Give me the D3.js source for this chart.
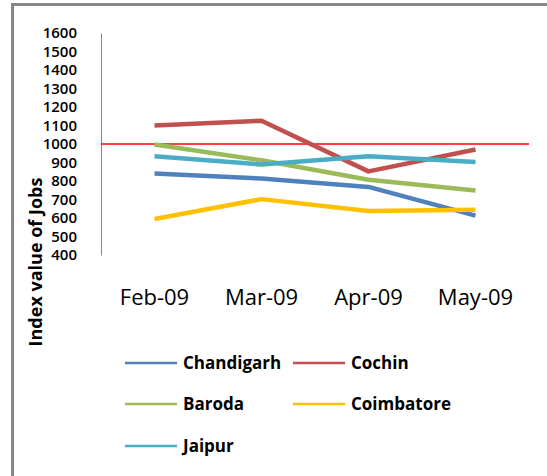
<!DOCTYPE html>
<html>
<head>
<meta charset="utf-8">
<script src="https://cdn.jsdelivr.net/npm/d3@7"></script>
<style>
  html, body { margin: 0; padding: 0; background: #fff; }
  svg { display: block; }
  text { font-family: "Open Sans", sans-serif; fill: #000; }
</style>
</head>
<body>
<svg id="chart" width="547" height="476"></svg>
<script>
const categories = ["Feb-09", "Mar-09", "Apr-09", "May-09"];
const seriesNames = ["Chandigarh", "Cochin", "Baroda", "Coimbatore", "Jaipur"];
const chandigarh = [840, 813, 768, 613];
const cochin = [1100, 1126, 852, 970];
const baroda = [997, 912, 807, 749];
const coimbatore = [595, 702, 638, 644];
const jaipur = [934, 889, 934, 903];
const seriesColors = ["#4F81BD", "#C0504D", "#9BBB59", "#FFC000", "#4BACC6"];
const yTicks = [400, 500, 600, 700, 800, 900, 1000, 1100, 1200, 1300, 1400, 1500, 1600];
const referenceValue = 1000;
const yTitle = "Index value of Jobs";

const seriesValues = [chandigarh, cochin, baroda, coimbatore, jaipur];

const svg = d3.select("#chart");

// outer frame (clipped at right/bottom like the reference)
svg.append("rect")
  .attr("x", 12.5).attr("y", 4.5)
  .attr("width", 560).attr("height", 500)
  .attr("fill", "none").attr("stroke", "#868686").attr("stroke-width", 3);

const plotLeft = 101, plotRight = 529, plotTop = 33, plotBottom = 255;

const x = d3.scaleBand().domain(categories).range([plotLeft, plotRight]).padding(0);
const y = d3.scaleLinear().domain([400, 1600]).range([plotBottom, plotTop]);

// y axis
const yAxis = d3.axisLeft(y).tickValues(yTicks).tickSize(0).tickPadding(24).tickFormat(d3.format("d"));
const yg = svg.append("g").attr("transform", `translate(${plotLeft},0)`).call(yAxis);
yg.select(".domain").attr("stroke", "#868686").attr("stroke-width", 1);
yg.selectAll("text")
  .style("font-family", "'Open Sans', sans-serif")
  .style("font-size", "15px")
  .style("font-weight", "600")
  .attr("fill", "#000");

// x axis labels (no axis line)
const xAxis = d3.axisBottom(x).tickSize(0).tickPadding(0);
const xg = svg.append("g").attr("transform", `translate(0,${plotBottom})`).call(xAxis);
xg.select(".domain").remove();
xg.selectAll("text")
  .attr("y", 50)
  .attr("dy", 0)
  .style("font-family", "'Open Sans', sans-serif")
  .style("font-size", "22px")
  .style("font-weight", "400")
  .attr("fill", "#000");

// y title
svg.append("text")
  .attr("transform", `translate(42,262) rotate(-90)`)
  .attr("text-anchor", "middle")
  .style("font-size", "18px")
  .style("font-weight", "700")
  .text(yTitle);

// reference line at 1000
svg.append("line")
  .attr("x1", plotLeft).attr("x2", plotRight)
  .attr("y1", y(referenceValue)).attr("y2", y(referenceValue))
  .attr("stroke", "#FF0000").attr("stroke-width", 1.5);

// series lines
const line = d3.line()
  .x((d, i) => x(categories[i]) + x.bandwidth() / 2)
  .y(d => y(d));

seriesValues.forEach((vals, i) => {
  svg.append("path")
    .datum(vals)
    .attr("d", line)
    .attr("fill", "none")
    .attr("stroke", seriesColors[i])
    .attr("stroke-width", 4.5)
    .attr("stroke-linejoin", "round");
});

// legend
const legendPos = [
  [125, 363], [293, 363],
  [125, 404], [293, 404],
  [125, 446]
];
seriesNames.forEach((name, i) => {
  const [lx, ly] = legendPos[i];
  const g = svg.append("g").attr("transform", `translate(${lx},${ly})`);
  g.append("line").attr("x1", 0).attr("x2", 52).attr("y1", 0).attr("y2", 0)
    .attr("stroke", seriesColors[i]).attr("stroke-width", 2.5);
  g.append("text").attr("x", 58).attr("y", 0).attr("dy", "0.35em")
    .style("font-size", "17px").style("font-weight", "700")
    .text(name);
});
</script>
</body>
</html>
